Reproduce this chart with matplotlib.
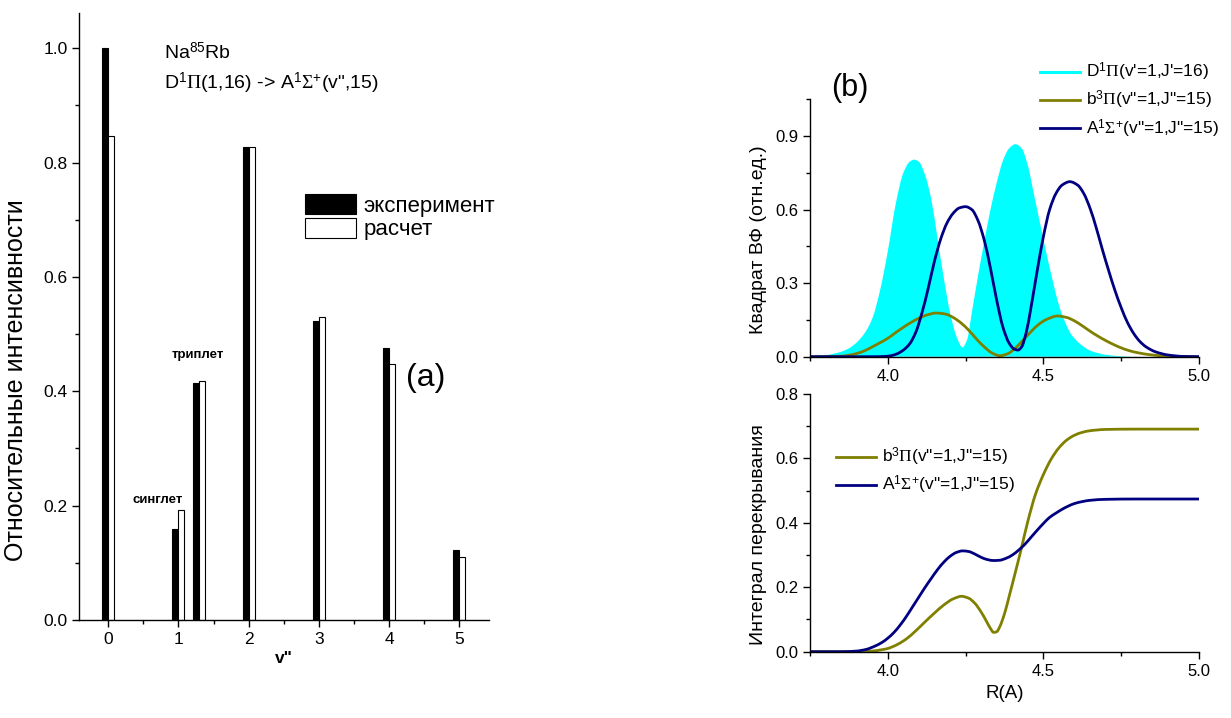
import matplotlib
matplotlib.use("Agg")
import matplotlib.pyplot as plt
from matplotlib.ticker import MultipleLocator
from matplotlib.patches import Patch, PathPatch
from matplotlib.lines import Line2D
from matplotlib.path import Path
from matplotlib import font_manager

# ---------------- data: panel (a) ----------------
bar_pos = [0, 1, 1.3, 2, 3, 4, 5]
bar_exp = [1.000, 0.160, 0.415, 0.827, 0.523, 0.475, 0.123]
bar_calc = [0.847, 0.193, 0.418, 0.828, 0.530, 0.447, 0.110]
xticks_a = [0, 1, 2, 3, 4, 5]

# ---------------- data: panel (b) upper (squared wavefunctions) ----------------
D_x = [3.750, 3.800, 3.825, 3.850, 3.875, 3.900, 3.925, 3.950, 3.975, 4.000, 4.025, 4.050,
       4.070, 4.085, 4.100, 4.120, 4.140, 4.160, 4.180, 4.200, 4.220, 4.240, 4.255, 4.270,
       4.290, 4.310, 4.330, 4.350, 4.370, 4.390, 4.410, 4.430, 4.450, 4.470, 4.490, 4.510,
       4.530, 4.550, 4.570, 4.590, 4.620, 4.650, 4.700, 4.750, 4.800, 5.000]
D_y = [0.002, 0.006, 0.012, 0.020, 0.034, 0.058, 0.095, 0.155, 0.270, 0.430, 0.620, 0.750,
       0.795, 0.804, 0.795, 0.740, 0.640, 0.480, 0.320, 0.180, 0.085, 0.038, 0.070, 0.180,
       0.330, 0.470, 0.600, 0.710, 0.800, 0.850, 0.867, 0.850, 0.780, 0.660, 0.540, 0.420,
       0.310, 0.210, 0.140, 0.090, 0.050, 0.025, 0.008, 0.002, 0.000, 0.000]

A_x = [3.750, 3.950, 3.990, 4.010, 4.030, 4.050, 4.070, 4.090, 4.110, 4.130, 4.150, 4.170,
       4.190, 4.210, 4.230, 4.250, 4.270, 4.290, 4.310, 4.330, 4.350, 4.370, 4.390, 4.405,
       4.418, 4.430, 4.445, 4.460, 4.480, 4.500, 4.520, 4.540, 4.560, 4.585, 4.610, 4.630,
       4.650, 4.670, 4.690, 4.710, 4.730, 4.750, 4.770, 4.790, 4.810, 4.830, 4.860, 4.900,
       4.950, 5.000]
A_y = [0.000, 0.000, 0.001, 0.004, 0.012, 0.027, 0.052, 0.100, 0.180, 0.280, 0.390, 0.480,
       0.545, 0.585, 0.607, 0.612, 0.600, 0.555, 0.475, 0.360, 0.230, 0.120, 0.055, 0.032,
       0.027, 0.040, 0.100, 0.200, 0.350, 0.490, 0.600, 0.665, 0.700, 0.714, 0.700, 0.665,
       0.605, 0.525, 0.435, 0.350, 0.270, 0.200, 0.140, 0.095, 0.062, 0.040, 0.020, 0.007,
       0.001, 0.000]

b_x = [3.750, 3.850, 3.875, 3.900, 3.925, 3.950, 3.975, 4.000, 4.025, 4.050, 4.075, 4.100,
       4.125, 4.155, 4.185, 4.210, 4.235, 4.260, 4.285, 4.310, 4.335, 4.360, 4.385, 4.410,
       4.435, 4.460, 4.485, 4.510, 4.545, 4.575, 4.600, 4.625, 4.650, 4.675, 4.700, 4.725,
       4.750, 4.775, 4.800, 4.850, 4.900, 5.000]
b_y = [0.000, 0.002, 0.006, 0.013, 0.024, 0.040, 0.057, 0.075, 0.098, 0.120, 0.140, 0.157,
       0.170, 0.178, 0.174, 0.160, 0.138, 0.108, 0.072, 0.040, 0.015, 0.004, 0.012, 0.035,
       0.068, 0.102, 0.132, 0.152, 0.166, 0.160, 0.146, 0.126, 0.104, 0.084, 0.066, 0.050,
       0.036, 0.025, 0.017, 0.007, 0.002, 0.000]

# ---------------- data: panel (b) lower (overlap integrals) ----------------
IA_x = [3.75, 3.85, 3.90, 3.93, 3.96, 3.98, 4.00, 4.02, 4.04, 4.06, 4.08, 4.10, 4.12, 4.14,
        4.16, 4.18, 4.20, 4.22, 4.24, 4.26, 4.28, 4.30, 4.32, 4.34, 4.36, 4.38, 4.40, 4.42,
        4.44, 4.46, 4.48, 4.50, 4.52, 4.54, 4.56, 4.58, 4.60, 4.625, 4.65, 4.70, 4.80, 5.00]
IA_y = [0.000, 0.000, 0.002, 0.007, 0.018, 0.028, 0.042, 0.060, 0.083, 0.110, 0.140, 0.170,
        0.200, 0.228, 0.255, 0.278, 0.296, 0.308, 0.313, 0.311, 0.303, 0.293, 0.286, 0.283,
        0.284, 0.290, 0.300, 0.315, 0.333, 0.355, 0.377, 0.398, 0.417, 0.430, 0.442, 0.452,
        0.460, 0.466, 0.470, 0.473, 0.474, 0.474]

Ib_x = [3.75, 3.90, 3.95, 3.98, 4.00, 4.03, 4.06, 4.09, 4.12, 4.15, 4.18, 4.21, 4.237, 4.26,
        4.28, 4.30, 4.315, 4.33, 4.34, 4.35, 4.36, 4.375, 4.39, 4.41, 4.427, 4.45, 4.475,
        4.50, 4.525, 4.55, 4.575, 4.60, 4.625, 4.65, 4.70, 4.80, 5.00]
Ib_y = [0.000, 0.000, 0.002, 0.006, 0.010, 0.022, 0.040, 0.065, 0.093, 0.120, 0.145, 0.164,
        0.172, 0.166, 0.150, 0.123, 0.098, 0.072, 0.060, 0.062, 0.078, 0.118, 0.172, 0.247,
        0.312, 0.405, 0.490, 0.550, 0.598, 0.633, 0.657, 0.672, 0.681, 0.686, 0.690, 0.691,
        0.691]

# ---------------- style ----------------
avail = {f.name for f in font_manager.fontManager.ttflist}
sans = "Liberation Sans" if "Liberation Sans" in avail else "DejaVu Sans"
narrow = "Liberation Sans Narrow" if "Liberation Sans Narrow" in avail else sans
plt.rcParams["font.family"] = [sans, "DejaVu Sans"]
plt.rcParams["mathtext.fontset"] = "custom"
plt.rcParams["mathtext.rm"] = "Liberation Serif"
plt.rcParams["mathtext.sf"] = sans
plt.rcParams["mathtext.it"] = "Liberation Serif:italic"
plt.rcParams["axes.linewidth"] = 1.0

OLIVE = "#808000"
NAVY = "#000080"
CYAN = "#00FFFF"

fig = plt.figure(figsize=(12.31, 7.18), dpi=100)
W, H = 1231.0, 718.0


def ax_px(l, r, t, b):
    return fig.add_axes([l / W, 1 - b / H, (r - l) / W, (b - t) / H])


def style(ax, fs=11):
    for s in ("top", "right"):
        ax.spines[s].set_visible(False)
    ax.tick_params(which="major", direction="out", length=5, width=1, labelsize=fs, colors="black")
    ax.tick_params(which="minor", direction="out", length=3, width=1)


def smooth_path(xs, ys, close_to_base=False):
    """Bezier path through the read points (monotone Hermite tangents)."""
    n = len(xs)
    d = [(ys[i + 1] - ys[i]) / (xs[i + 1] - xs[i]) for i in range(n - 1)]
    m = [0.0] * n
    m[0], m[-1] = d[0], d[-1]
    for i in range(1, n - 1):
        if d[i - 1] * d[i] <= 0:
            m[i] = 0.0
        else:
            h0 = xs[i] - xs[i - 1]
            h1 = xs[i + 1] - xs[i]
            w1, w2 = 2 * h1 + h0, h1 + 2 * h0
            m[i] = (w1 + w2) / (w1 / d[i - 1] + w2 / d[i])
    verts = [(xs[0], ys[0])]
    codes = [Path.MOVETO]
    for i in range(n - 1):
        h = xs[i + 1] - xs[i]
        verts += [(xs[i] + h / 3, ys[i] + m[i] * h / 3),
                  (xs[i + 1] - h / 3, ys[i + 1] - m[i + 1] * h / 3),
                  (xs[i + 1], ys[i + 1])]
        codes += [Path.CURVE4] * 3
    if close_to_base:
        verts += [(xs[-1], 0.0), (xs[0], 0.0), (xs[0], ys[0])]
        codes += [Path.LINETO, Path.LINETO, Path.CLOSEPOLY]
    return Path(verts, codes)


def smooth_line(ax, xs, ys, color, lw=2.0):
    ax.add_patch(PathPatch(smooth_path(xs, ys), facecolor="none", edgecolor=color, lw=lw,
                           capstyle="butt", joinstyle="round"))


# ---------------- panel (a) ----------------
AL, AR, AT, AB = 79.3, 489, 12.7, 620
axa = ax_px(AL, AR, AT, AB)
style(axa, 12.5)
exp_w = 0.087
calc_w = 0.085
axa.bar(bar_pos, bar_exp, width=-exp_w, align="edge", color="black", edgecolor="black",
        linewidth=0.8, label="эксперимент")
axa.bar(bar_pos, bar_calc, width=calc_w, align="edge", color="white", edgecolor="black",
        linewidth=0.8, label="расчет")
axa.set_xlim(-0.41, 5.42)
axa.set_ylim(0, 1.062)
axa.set_xticks(xticks_a)
axa.xaxis.set_minor_locator(MultipleLocator(0.5))
axa.yaxis.set_major_locator(MultipleLocator(0.2))
axa.yaxis.set_minor_locator(MultipleLocator(0.1))
axa.yaxis.set_major_formatter(plt.FormatStrFormatter("%.1f"))
axa.set_xlabel('v"', fontsize=12.5, fontweight="bold", labelpad=3)
axa.set_ylabel("Относительные интенсивности", fontsize=18, family=narrow)
axa.yaxis.set_label_coords(-(AL - 28) / (AR - AL), (AB - 380) / (AB - AT))

handles = [Patch(facecolor="black", edgecolor="black", linewidth=0.8),
           Patch(facecolor="white", edgecolor="black", linewidth=0.8)]
fig.legend(handles, ["эксперимент", "расчет"], loc="upper left",
           bbox_to_anchor=(305 / W, 1 - 194 / H), frameon=False, fontsize=16,
           handlelength=2.3, handleheight=1.0, handletextpad=0.33, labelspacing=0.06,
           borderpad=0, borderaxespad=0)

fig.text(164 / W, 1 - 59 / H, r"Na$^{\mathsf{85}}$Rb", fontsize=14, ha="left", va="baseline")
fig.text(164 / W, 1 - 89 / H, r'D$^{\mathsf{1}}\Pi$(1,16) -> A$^{\mathsf{1}}\Sigma^{\mathsf{+}}$(v",15)',
         fontsize=14, ha="left", va="baseline")
fig.text(426 / W, 1 - 378 / H, "(a)", fontsize=23, ha="center", va="center")
fig.text(198 / W, 1 - 355 / H, "триплет", fontsize=9.5, fontweight="bold", ha="center", va="center")
fig.text(158 / W, 1 - 500 / H, "синглет", fontsize=9.5, fontweight="bold", ha="center", va="center")

# ---------------- panel (b) upper ----------------
BL, BR = 810, 1199
UT, UB = 99.3, 356.7
axu = ax_px(BL, BR, UT, UB)
style(axu, 12)
axu.add_patch(PathPatch(smooth_path(D_x, D_y, close_to_base=True), facecolor=CYAN,
                        edgecolor="none"))
smooth_line(axu, b_x, b_y, OLIVE)
smooth_line(axu, A_x, A_y, NAVY)
axu.set_xlim(3.75, 5.0)
axu.set_ylim(0, 1.05)
axu.xaxis.set_major_locator(MultipleLocator(0.5))
axu.xaxis.set_minor_locator(MultipleLocator(0.25))
axu.yaxis.set_major_locator(MultipleLocator(0.3))
axu.yaxis.set_minor_locator(MultipleLocator(0.15))
axu.xaxis.set_major_formatter(plt.FormatStrFormatter("%.1f"))
axu.yaxis.set_major_formatter(plt.FormatStrFormatter("%.1f"))
axu.set_ylabel("Квадрат ВФ (отн.ед.)", fontsize=14)
axu.yaxis.set_label_coords(-(BL - 767) / (BR - BL), (UB - 240) / (UB - UT))
up_handles = [Line2D([], [], color=CYAN, lw=2.2), Line2D([], [], color=OLIVE, lw=2.0),
              Line2D([], [], color=NAVY, lw=2.0)]
up_labels = [r"D$^{\mathsf{1}}\Pi$(v'=1,J'=16)", r'b$^{\mathsf{3}}\Pi$(v"=1,J"=15)',
             r'A$^{\mathsf{1}}\Sigma^{\mathsf{+}}$(v"=1,J"=15)']
axu.legend(up_handles, up_labels, loc="upper left", bbox_to_anchor=(1040 / W, 1 - 61 / H),
           bbox_transform=fig.transFigure, frameon=False, fontsize=12.5, handlelength=2.3,
           handletextpad=0.35, labelspacing=0.35, borderpad=0, borderaxespad=0)
fig.text(850 / W, 1 - 88 / H, "(b)", fontsize=22, ha="center", va="center")

# ---------------- panel (b) lower ----------------
LT, LB = 394, 651.7
axl = ax_px(BL, BR, LT, LB)
style(axl, 12)
smooth_line(axl, Ib_x, Ib_y, OLIVE)
smooth_line(axl, IA_x, IA_y, NAVY)
axl.set_xlim(3.75, 5.0)
axl.set_ylim(0, 0.8)
axl.xaxis.set_major_locator(MultipleLocator(0.5))
axl.xaxis.set_minor_locator(MultipleLocator(0.25))
axl.yaxis.set_major_locator(MultipleLocator(0.2))
axl.yaxis.set_minor_locator(MultipleLocator(0.1))
axl.xaxis.set_major_formatter(plt.FormatStrFormatter("%.1f"))
axl.yaxis.set_major_formatter(plt.FormatStrFormatter("%.1f"))
axl.set_ylabel("Интеграл перекрывания", fontsize=14)
axl.yaxis.set_label_coords(-(BL - 767) / (BR - BL), (LB - 535) / (LB - LT))
axl.set_xlabel("R(A)", fontsize=13.5, labelpad=5)
lo_handles = [Line2D([], [], color=OLIVE, lw=2.0), Line2D([], [], color=NAVY, lw=2.0)]
lo_labels = [r'b$^{\mathsf{3}}\Pi$(v"=1,J"=15)', r'A$^{\mathsf{1}}\Sigma^{\mathsf{+}}$(v"=1,J"=15)']
axl.legend(lo_handles, lo_labels, loc="upper left", bbox_to_anchor=(836 / W, 1 - 446 / H),
           bbox_transform=fig.transFigure, frameon=False, fontsize=12.5, handlelength=2.3,
           handletextpad=0.35, labelspacing=0.35, borderpad=0, borderaxespad=0)

fig.savefig("out.png", dpi=100)
